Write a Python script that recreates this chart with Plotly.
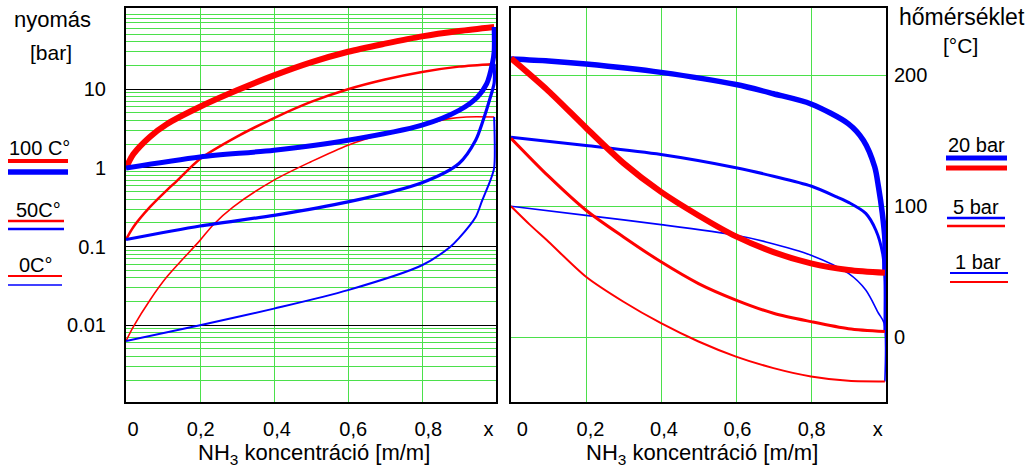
import plotly.graph_objects as go

# ---------------- data ----------------
# Left panel: pressure [bar] vs NH3 mass fraction, isotherms
p100_liq_x = [0, 0.02, 0.065, 0.11, 0.2, 0.3, 0.4, 0.5, 0.6, 0.7, 0.8, 0.9, 0.995]
p100_liq_y = [1.0, 1.5, 2.5, 3.6, 6.0, 9.7, 15, 22, 30, 38, 47, 55, 62]
p100_vap_x = [0, 0.2, 0.4, 0.6, 0.8, 0.9, 0.95, 0.975, 0.99, 0.995, 0.995]
p100_vap_y = [1.0, 1.38, 1.68, 2.25, 3.5, 5.4, 8.0, 11.8, 21, 30, 62]

p50_liq_x = [0, 0.02, 0.065, 0.11, 0.137, 0.2, 0.3, 0.4, 0.5, 0.6, 0.7, 0.8, 0.9, 0.995]
p50_liq_y = [0.123, 0.178, 0.32, 0.52, 0.68, 1.3, 2.5, 4.3, 6.9, 10.0, 13.3, 16.6, 19.4, 21]
p50_vap_x = [0, 0.2, 0.4, 0.6, 0.8, 0.9, 0.945, 0.965, 0.985, 0.995, 0.995]
p50_vap_y = [0.123, 0.183, 0.25, 0.37, 0.65, 1.14, 2.25, 4.0, 8.0, 12, 21]

p0_liq_x = [0, 0.02, 0.065, 0.11, 0.2, 0.236, 0.29, 0.4, 0.5, 0.6, 0.7, 0.8, 0.87, 0.92, 0.995]
p0_liq_y = [0.0063, 0.0096, 0.021, 0.041, 0.12, 0.19, 0.32, 0.70, 1.2, 1.95, 2.74, 3.5, 4.2, 4.45, 4.45]
p0_vap_x = [0, 0.2, 0.4, 0.6, 0.8, 0.876, 0.9, 0.945, 0.963, 0.985, 0.995, 0.995]
p0_vap_y = [0.0063, 0.010, 0.0163, 0.028, 0.058, 0.099, 0.128, 0.238, 0.39, 0.7, 1.0, 4.45]

# Right panel: temperature [°C] vs NH3 mass fraction, isobars
t20_vap_x = [0, 0.1, 0.2, 0.4, 0.6, 0.7, 0.8, 0.9, 0.94, 0.97, 0.98, 0.99, 0.997, 0.997]
t20_vap_y = [212.5, 211, 208.7, 202.3, 193, 186, 178.2, 163, 150.3, 130, 114.7, 95, 75, 49.4]
t20_liq_x = [0, 0.1, 0.2, 0.3, 0.4, 0.5, 0.6, 0.7, 0.8, 0.9, 0.997]
t20_liq_y = [213, 188, 160, 133, 111, 93, 77, 65, 56.4, 51.3, 49.2]

t5_vap_x = [0, 0.2, 0.4, 0.6, 0.7, 0.8, 0.87, 0.9, 0.946, 0.973, 0.991, 0.997, 0.997]
t5_vap_y = [152.8, 146.5, 139.6, 129.5, 123, 115.5, 107, 103, 94.6, 81.7, 64, 45, 4.3]
t5_liq_x = [0, 0.1, 0.2, 0.3, 0.4, 0.5, 0.6, 0.7, 0.8, 0.9, 0.997]
t5_liq_y = [152, 123, 97, 76.6, 57.6, 41, 28.4, 18.3, 11.9, 6.5, 4.3]

t1_vap_x = [0, 0.2, 0.4, 0.6, 0.68, 0.8, 0.9, 0.946, 0.98, 0.995, 0.997]
t1_vap_y = [100, 93.1, 86, 77.9, 72.8, 62.7, 48.7, 36, 18.3, 10.7, -33.8]
t1_liq_x = [0, 0.05, 0.1, 0.2, 0.3, 0.4, 0.5, 0.6, 0.7, 0.8, 0.9, 0.997]
t1_liq_y = [100, 86, 73, 46.2, 27.1, 10.7, -3.3, -14.8, -23.6, -30, -33.3, -33.8]

# tick labels
x_tick_text = ["0", "0,2", "0,4", "0,6", "0,8", "x"]
x_tick_pos_left = [0.019, 0.202, 0.408, 0.614, 0.817, 0.98]
x_tick_pos_right = [0.03, 0.212, 0.408, 0.604, 0.802, 0.978]
p_tick_vals = [0.01, 0.1, 1, 10]
p_tick_text = ["0.01", "0.1", "1", "10"]
t_tick_vals = [0, 100, 200]
t_tick_text = ["0", "100", "200"]

# ---------------- styling ----------------
W, H = 1031, 472
RED = "#ff0000"
BLUE = "#0000ff"
GREEN = "#4be04b"
FONT = "Liberation Sans, Arial, sans-serif"


def px(x):
    return x / W


def py(y):
    return 1 - y / H


fig = go.Figure()

left = [
    (p100_liq_x, p100_liq_y, RED, 6),
    (p50_liq_x, p50_liq_y, RED, 2.5),
    (p0_liq_x, p0_liq_y, RED, 1.6),
    (p0_vap_x, p0_vap_y, BLUE, 2),
    (p50_vap_x, p50_vap_y, BLUE, 3.2),
    (p100_vap_x, p100_vap_y, BLUE, 5),
]
for xs, ys, c, w in left:
    fig.add_trace(go.Scatter(x=xs, y=ys, mode="lines",
                             line=dict(color=c, width=w, shape="spline", smoothing=0.8),
                             xaxis="x", yaxis="y", showlegend=False, hoverinfo="skip"))

right = [
    (t1_vap_x, t1_vap_y, BLUE, 1.6),
    (t5_vap_x, t5_vap_y, BLUE, 3),
    (t20_vap_x, t20_vap_y, BLUE, 5.5),
    (t1_liq_x, t1_liq_y, RED, 2),
    (t5_liq_x, t5_liq_y, RED, 3),
    (t20_liq_x, t20_liq_y, RED, 6),
]
for xs, ys, c, w in right:
    fig.add_trace(go.Scatter(x=xs, y=ys, mode="lines",
                             line=dict(color=c, width=w, shape="spline", smoothing=0.8),
                             xaxis="x2", yaxis="y2", showlegend=False, hoverinfo="skip"))

minor_log = [k * 10 ** d for d in range(-3, 2) for k in range(2, 10)]

frame = dict(showline=True, mirror=True, linecolor="black", linewidth=2, zeroline=False)
tickfont = dict(family=FONT, size=20, color="black")

y_top, y_bot = 8, 402

fig.update_layout(
    width=W, height=H,
    margin=dict(l=0, r=0, t=0, b=0),
    paper_bgcolor="white", plot_bgcolor="white",
    xaxis=dict(domain=[px(126), px(496)], range=[0, 1], anchor="y",
               tickvals=x_tick_pos_left, ticktext=x_tick_text, ticks="",
               showgrid=False, tickfont=tickfont, ticklabelstandoff=8,
               minor=dict(tickvals=[0.2, 0.4, 0.6, 0.8], showgrid=True,
                          gridcolor=GREEN, gridwidth=1, ticks=""),
               **frame),
    yaxis=dict(domain=[py(y_bot), py(y_top)], type="log", range=[-2.975, 2.033],
               anchor="x", tickvals=p_tick_vals, ticktext=p_tick_text, ticks="",
               showgrid=True, gridcolor="#000000", gridwidth=1,
               tickfont=tickfont, ticklabelstandoff=14,
               minor=dict(tickvals=minor_log, showgrid=True, gridcolor=GREEN,
                          gridwidth=1, ticks=""),
               **frame),
    xaxis2=dict(domain=[px(511), px(886)], range=[0, 1], anchor="y2",
                tickvals=x_tick_pos_right, ticktext=x_tick_text, ticks="",
                showgrid=False, tickfont=tickfont, ticklabelstandoff=8,
                minor=dict(tickvals=[0.2, 0.4, 0.6, 0.8], showgrid=True,
                           gridcolor=GREEN, gridwidth=1, ticks=""),
                **frame),
    yaxis2=dict(domain=[py(y_bot), py(y_top)], range=[-49.5, 251.5], anchor="x2",
                side="right", tickvals=t_tick_vals, ticktext=t_tick_text, ticks="",
                showgrid=True, gridcolor=GREEN, gridwidth=1,
                tickfont=tickfont, ticklabelstandoff=2,
                **frame),
)

ann = []


def text(s, x, y, size=20, xanchor="center"):
    ann.append(dict(text=s, x=px(x), y=py(y), xref="paper", yref="paper",
                    xanchor=xanchor, yanchor="middle", showarrow=False,
                    font=dict(family=FONT, size=size, color="black")))


text("nyomás", 52, 19, 22)
text("[bar]", 51, 52, 21)
text("hőmérséklet", 962, 17, 23)
text("[°C]", 960, 46, 21)
text("NH<sub>3</sub> koncentráció [m/m]", 314, 454, 22)
text("NH<sub>3</sub> koncentráció [m/m]", 702, 454, 22)

# legend labels
text("100 C°", 39, 148, 20)
text("50C°", 38, 210, 20)
text("0C°", 36, 265, 20)
text("20 bar", 976, 145, 20)
text("5 bar", 976, 207, 20)
text("1 bar", 978, 262, 20)

shapes = []


def seg(x0, x1, y, c, w):
    shapes.append(dict(type="line", xref="paper", yref="paper",
                       x0=px(x0), x1=px(x1), y0=py(y), y1=py(y),
                       line=dict(color=c, width=w)))


seg(8, 68, 161, RED, 4)
seg(8, 68, 172, BLUE, 5.5)
seg(8, 64, 221, RED, 2.5)
seg(8, 64, 229, BLUE, 2.5)
seg(8, 62, 276, RED, 2)
seg(8, 62, 285, BLUE, 1.6)

seg(946, 1007, 158, BLUE, 5)
seg(946, 1007, 168, RED, 5)
seg(947, 1005, 218, BLUE, 2.5)
seg(947, 1005, 226, RED, 2.5)
seg(950, 1008, 273, BLUE, 2)
seg(950, 1008, 282, RED, 2)

fig.update_layout(annotations=ann, shapes=shapes)

fig.write_html("out.html")
